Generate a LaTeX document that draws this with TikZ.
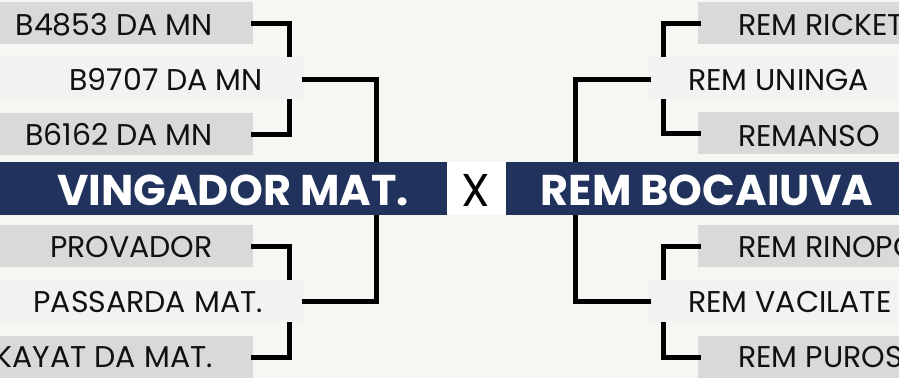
\documentclass[tikz,border=0pt]{standalone}
\usepackage{fontspec}
\setmainfont{Poppins}
\definecolor{bgcol}{HTML}{F6F6F2}
\definecolor{boxgray}{HTML}{D9D9D9}
\definecolor{boxlight}{HTML}{F2F2F2}
\definecolor{navy}{HTML}{21335D}
\definecolor{ink}{HTML}{111111}
\begin{document}
\begin{tikzpicture}[x=1pt,y=-1pt,
  graybox/.style={fill=boxgray, draw=none, inner sep=0pt, minimum height=42pt, anchor=north west},
  lightbox/.style={fill=boxlight, draw=none, inner sep=0pt, minimum height=42pt, anchor=north west},
  lbl/.style={inner sep=0pt, text=ink, font=\fontsize{30}{30}\selectfont},
  bannerbox/.style={fill=navy, draw=none, inner sep=0pt, minimum height=53pt, anchor=north west},
  bannertext/.style={inner sep=0pt, text=white, font=\fontsize{43}{43}\selectfont\bfseries},
  bracket/.style={draw=black, line width=5pt, line cap=rect, line join=miter}
]
\useasboundingbox (0,0) rectangle (899,378);
\clip (0,0) rectangle (899,378);
\fill[bgcol] (0,0) rectangle (899,378);

% ---- left gray boxes
\node[graybox, minimum width=253pt] (l1) at (0,2) {};
\node[graybox, minimum width=253pt] (l3) at (0,113) {};
\node[graybox, minimum width=253pt] (l4) at (0,225) {};
\node[graybox, minimum width=253pt] (l6) at (0,336) {};
% ---- right gray boxes
\node[graybox, minimum width=201pt] (r1) at (698,2) {};
\node[graybox, minimum width=201pt] (r3) at (698,112) {};
\node[graybox, minimum width=201pt] (r4) at (698,225) {};
\node[graybox, minimum width=201pt] (r6) at (698,336) {};

% ---- brackets (first level)
\draw[bracket] (l1.east) -| (289,100) |- (l3.east);
\draw[bracket] (l4.east) -| (289,300) |- (l6.east);
\draw[bracket] (r1.west) -| (663,100) |- (r3.west);
\draw[bracket] (r4.west) -| (663,300) |- (r6.west);

% ---- light boxes
\node[lightbox, minimum width=304pt] (l2) at (0,57) {};
\node[lightbox, minimum width=304pt] (l5) at (0,280) {};
\node[lightbox, minimum width=251pt] (r2) at (648,57) {};
\node[lightbox, minimum width=251pt] (r5) at (648,280) {};

% ---- second level brackets
\draw[bracket] ([yshift=-1.5pt]l2.east) -| (376,200) |- (l5.east);
\draw[bracket] ([yshift=-1.5pt]r2.west) -| (575.5,200) |- (r5.west);

% ---- banner
\node[bannerbox, minimum width=447pt] (bl) at (0,162) {};
\node[fill=white, draw=none, inner sep=0pt, minimum width=59pt, minimum height=53pt, anchor=north west] (bx) at (447,162) {};
\node[bannerbox, minimum width=393pt] (br) at (506,162) {};
\node[bannertext, anchor=base] (tl) at (233,205) {VINGADOR MAT.};
\node[bannertext, anchor=base] (tr) at (707,205) {REM BOCAIUVA};
\node[inner sep=0pt, text=black, font=\fontsize{46}{46}\selectfont, anchor=base] (tx) at (476,206) {X};

% ---- labels left
\node[lbl, anchor=base east] (tl1) at (213,35) {B4853 DA MN};
\node[lbl, anchor=base east] (tl2) at (263,90) {B9707 DA MN};
\node[lbl, anchor=base east] (tl3) at (213,145) {B6162 DA MN};
\node[lbl, anchor=base east] (tl4) at (213,257) {PROVADOR};
\node[lbl, anchor=base east] (tl5) at (263,312) {PASSARDA MAT.};
\node[lbl, anchor=base east] (tl6) at (213,367) {KAYAT DA MAT.};
% ---- labels right
\node[lbl, anchor=base west] (tr1) at (738,35) {REM RICKET};
\node[lbl, anchor=base west] (tr2) at (688,90) {REM UNINGA};
\node[lbl, anchor=base west] (tr3) at (738,146) {REMANSO};
\node[lbl, anchor=base west] (tr4) at (738,257) {REM RINOPO};
\node[lbl, anchor=base west] (tr5) at (688,312) {REM VACILATE};
\node[lbl, anchor=base west] (tr6) at (738,367) {REM PUROSS};
\end{tikzpicture}
\end{document}
